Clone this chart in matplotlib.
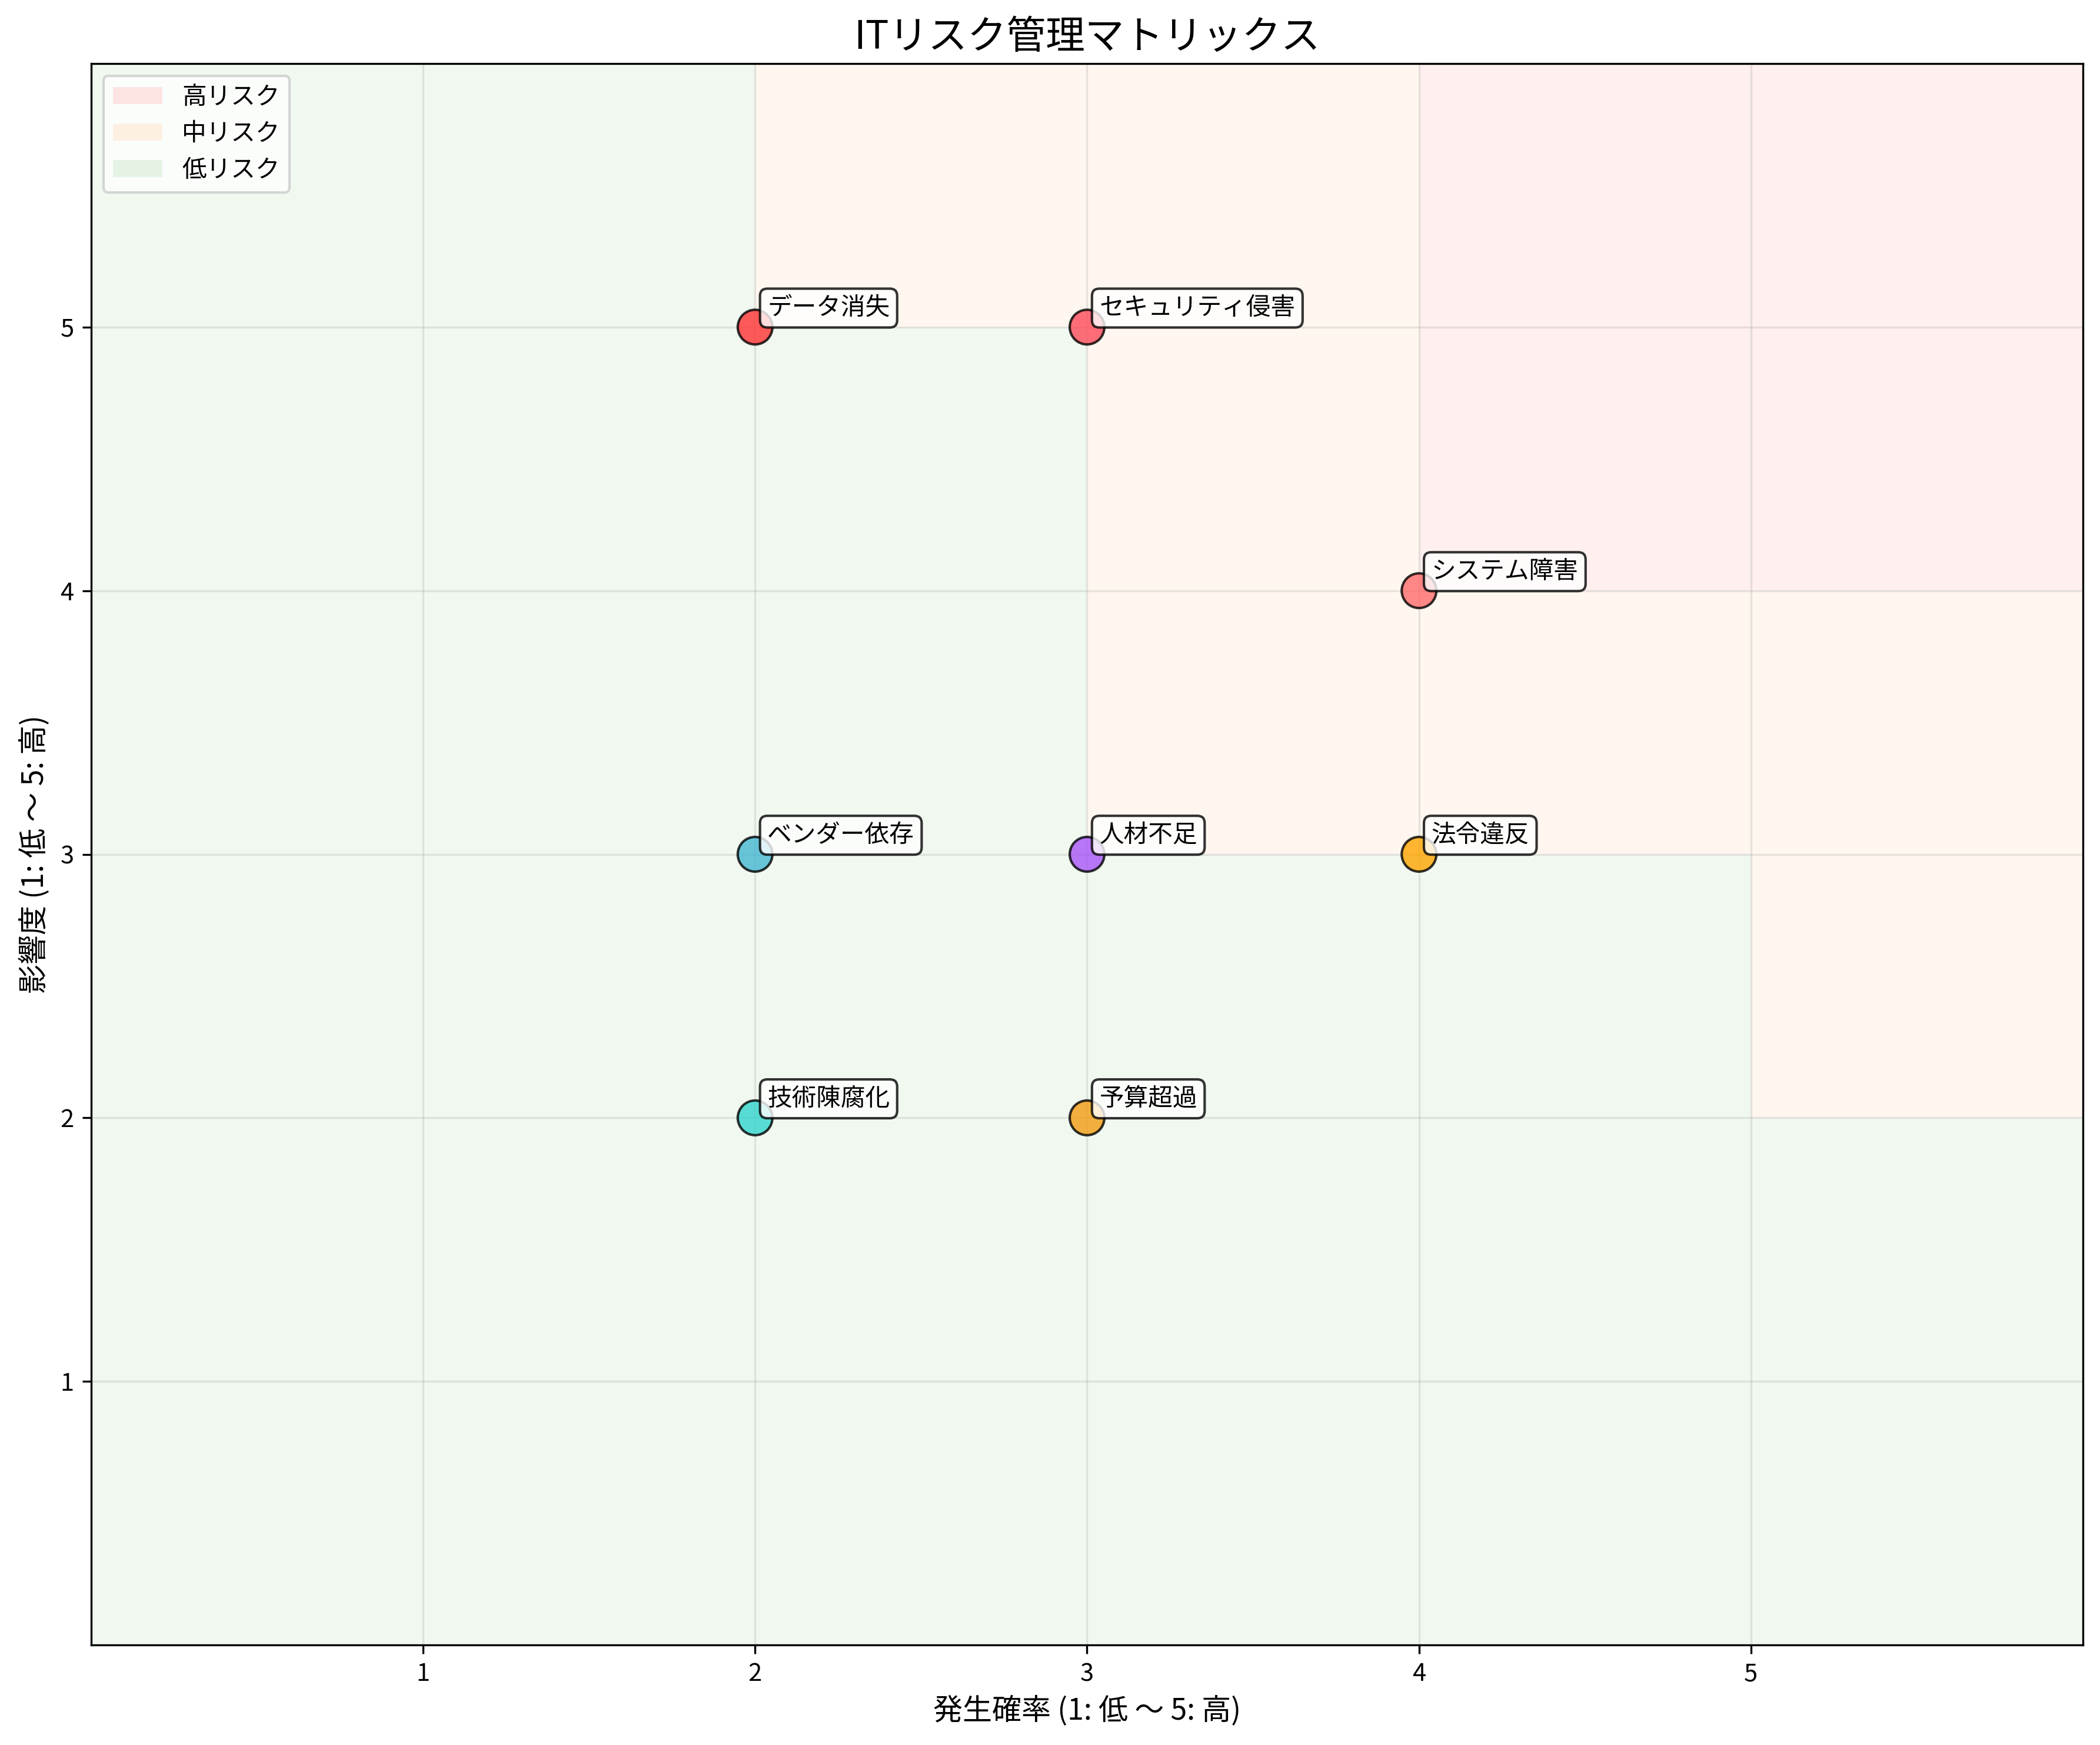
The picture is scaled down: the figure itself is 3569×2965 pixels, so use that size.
import matplotlib
matplotlib.use("Agg")
import matplotlib.pyplot as plt
from matplotlib.patches import Rectangle, Patch

plt.rcParams['font.family'] = ['Noto Sans CJK JP', 'DejaVu Sans']

# risks: name, probability, impact, colour
risk_names = ['データ消失', 'セキュリティ侵害', 'システム障害', 'ベンダー依存',
              '人材不足', '法令違反', '技術陳腐化', '予算超過']
probability = [2, 3, 4, 2, 3, 4, 2, 3]
impact = [5, 5, 4, 3, 3, 3, 2, 2]
point_colors = ['#FF3333', '#FF4B5A', '#FF6B6B', '#45B7D1',
                '#A855F7', '#FFA500', '#33D4CF', '#F39C12']

# background zones (score = x * y of the cell)
zone_labels = ['高リスク', '中リスク', '低リスク']
zone_colors = ['#ffcccc', '#ffe5cc', '#d0ebcf']
high_min = 16
mid_min = 9
ticks = [1, 2, 3, 4, 5]

fig, ax = plt.subplots(figsize=(3569 / 300, 2965 / 300), dpi=300)
fig.subplots_adjust(left=0.0434, right=0.9919, top=0.9636, bottom=0.0573)

for i in range(6):
    for j in range(6):
        score = i * j
        if score >= high_min:
            c = zone_colors[0]
        elif score >= mid_min:
            c = zone_colors[1]
        else:
            c = zone_colors[2]
        ax.add_patch(Rectangle((i, j), 1, 1, facecolor=c, alpha=0.3,
                               linewidth=0, zorder=0))

ax.scatter(probability, impact, s=200, c=point_colors, alpha=0.8,
           edgecolors='black', linewidths=1, zorder=3)

for name, x, y in zip(risk_names, probability, impact):
    ax.annotate(name, (x, y), xytext=(5, 5), textcoords='offset points',
                fontsize=10, zorder=4,
                bbox=dict(boxstyle='round,pad=0.3', facecolor='white', alpha=0.8))

ax.set_xlim(0, 6)
ax.set_ylim(0, 6)
ax.set_xticks(ticks)
ax.set_yticks(ticks)
ax.grid(True, alpha=0.3)

ax.set_xlabel('発生確率 (1: 低 ～ 5: 高)', fontsize=12)
ax.set_ylabel('影響度 (1: 低 ～ 5: 高)', fontsize=12)
ax.set_title('ITリスク管理マトリックス', fontsize=16)

handles = [Patch(facecolor=c, alpha=0.5, label=l) for c, l in zip(zone_colors, zone_labels)]
ax.legend(handles=handles, loc='upper left', fontsize=10)

fig.savefig('out.png', dpi=300)
